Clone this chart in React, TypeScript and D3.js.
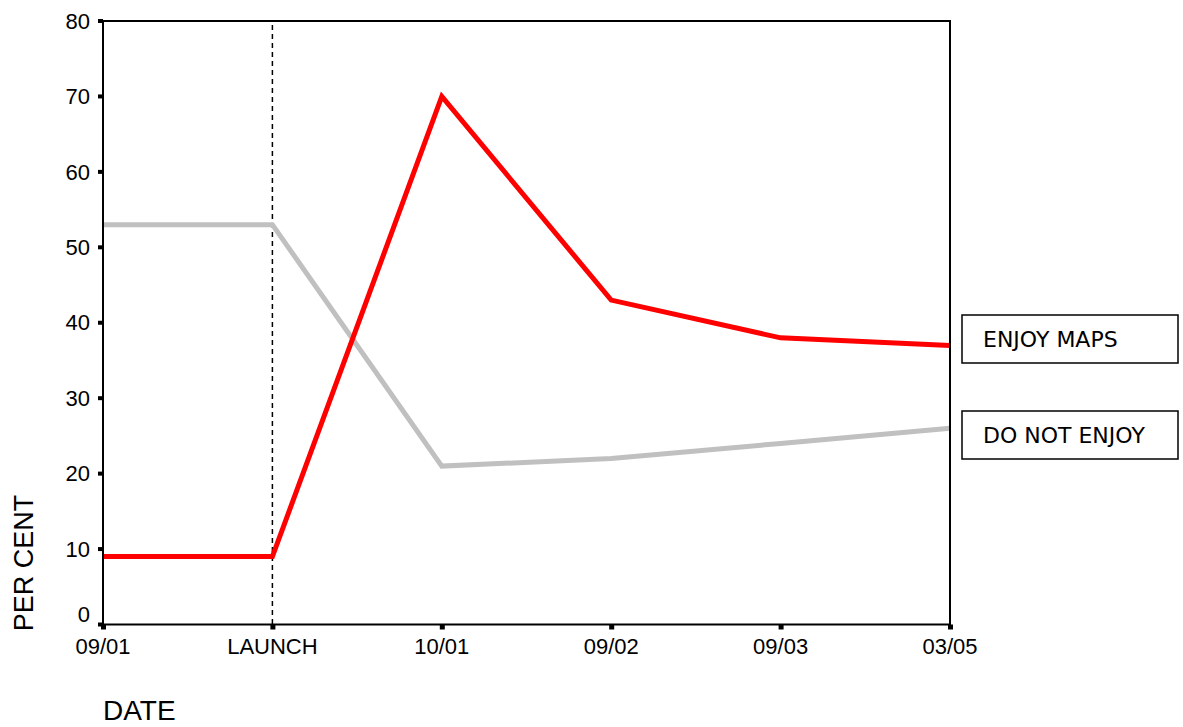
import React from "react";
import * as d3 from "d3";

const categories = ["09/01", "LAUNCH", "10/01", "09/02", "09/03", "03/05"];
const enjoyMaps = [9, 9, 70, 43, 38, 37];
const doNotEnjoy = [53, 53, 21, 22, 24, 26];
const yTicks = [0, 10, 20, 30, 40, 50, 60, 70, 80];
const seriesNames = ["ENJOY MAPS", "DO NOT ENJOY"];

const W = 1183;
const H = 727;
const left = 103;
const right = 950;
const top = 21;
const bottom = 624.5;

export default function App() {
  const x = d3.scalePoint<string>().domain(categories).range([left, right]).padding(0);
  const y = d3.scaleLinear().domain([0, 80]).range([bottom, top]);
  const line = d3
    .line<number>()
    .x((_, i) => x(categories[i]) as number)
    .y((d) => y(d));

  const tickFont = "'Liberation Sans', Arial, sans-serif";
  const legendFont = "'DejaVu Sans', Verdana, sans-serif";

  return (
    <svg
      width={W}
      height={H}
      style={{ position: "fixed", left: 0, top: 0, background: "#fff" }}
    >
      {/* dashed launch line */}
      <line
        x1={x("LAUNCH")}
        x2={x("LAUNCH")}
        y1={top + 4}
        y2={bottom}
        stroke="#000"
        strokeWidth={1.5}
        strokeDasharray="5,4"
      />
      {/* series */}
      <path d={line(doNotEnjoy) || ""} fill="none" stroke="#c0c0c0" strokeWidth={5} strokeLinejoin="miter" />
      <path d={line(enjoyMaps) || ""} fill="none" stroke="#ff0000" strokeWidth={5} strokeLinejoin="miter" />
      {/* frame */}
      <rect x={left} y={top} width={right - left} height={bottom - top} fill="none" stroke="#000" strokeWidth={2} />
      {/* y ticks */}
      {yTicks.map((t) => (
        <g key={t}>
          <rect x={left - 5} y={y(t) - 2} width={5} height={4} fill="#000" />
          <text
            x={90}
            y={t === 0 ? y(t) - 10 : y(t)}
            dy="0.35em"
            textAnchor="end"
            fontFamily={tickFont}
            fontSize={22}
            fill="#000"
          >
            {t}
          </text>
        </g>
      ))}
      {/* x ticks */}
      {categories.map((c) => (
        <g key={c}>
          <rect x={(x(c) as number) - 2} y={bottom} width={5} height={5} fill="#000" />
          <text
            x={x(c)}
            y={654}
            textAnchor="middle"
            fontFamily={tickFont}
            fontSize={22}
            fill="#000"
          >
            {c}
          </text>
        </g>
      ))}
      {/* axis titles */}
      <text
        transform={`translate(33,563) rotate(-90)`}
        textAnchor="middle"
        fontFamily={tickFont}
        fontSize={27}
        fill="#000"
      >
        PER CENT
      </text>
      <text x={103} y={720} fontFamily={tickFont} fontSize={28} fill="#000">
        DATE
      </text>
      {/* legend */}
      {seriesNames.map((n, i) => (
        <g key={n} transform={`translate(962,${315 + i * 96})`}>
          <rect x={0} y={0} width={216} height={48} fill="#fff" stroke="#000" strokeWidth={1.5} />
          <text x={21} y={24} dy="0.35em" fontFamily={legendFont} fontSize={22} fill="#000">
            {n}
          </text>
        </g>
      ))}
    </svg>
  );
}
